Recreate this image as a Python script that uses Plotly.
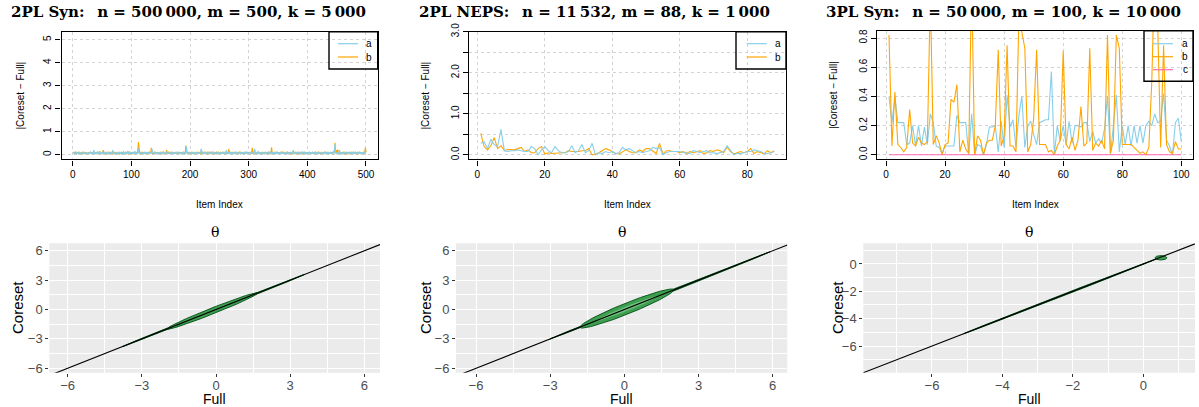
import numpy as np
import plotly.graph_objects as go

W, H = 1199, 407

# ---------------- data (values in hundredths) ----------------
A_SYN2_X100 = [
    8,5,3,9,6,4,10,7,3,5,12,6,4,8,3,7,5,9,4,6,11,5,3,8,6,
    4,9,5,7,13,6,3,8,5,10,20,7,4,9,6,12,5,3,8,14,6,4,9,7,5,
    10,6,3,8,13,5,7,4,9,6,11,5,3,8,6,10,4,20,7,5,9,3,6,12,5,
    8,4,10,6,3,9,7,12,5,4,8,14,6,3,10,7,5,9,16,4,6,11,5,8,3,
    7,12,5,9,4,15,6,8,3,10,30,14,7,5,9,4,12,6,3,8,5,10,7,4,9,
    6,11,4,8,5,13,7,3,9,25,10,6,4,8,12,5,9,3,7,11,5,8,4,10,6,
    3,9,7,12,5,8,4,10,6,14,7,3,9,5,11,6,4,8,12,5,7,3,10,6,9,
    4,8,13,5,7,3,9,11,6,4,8,5,12,7,3,10,6,9,35,8,4,7,12,5,9,
    6,3,10,8,5,12,4,7,9,3,11,6,8,5,10,4,7,13,25,9,5,8,4,11,6,
    3,9,7,5,12,8,4,10,6,3,9,14,5,7,4,11,8,6,3,10,5,9,12,4,7,
    6,8,3,10,5,13,7,4,9,6,11,20,5,8,3,10,7,4,12,6,9,5,8,3,11,
    7,4,9,13,6,5,10,3,8,12,4,7,9,5,11,6,3,10,8,4,14,7,5,9,6,
    3,11,8,5,10,7,4,12,6,25,9,5,8,3,10,13,6,4,9,7,5,11,3,8,6,
    10,4,7,12,5,9,3,8,14,6,4,10,7,5,12,8,3,9,6,11,4,7,13,5,8,
    3,10,6,9,4,12,7,5,8,11,3,6,10,4,9,13,5,7,3,8,12,6,4,10,7,
    20,5,9,3,11,6,8,4,10,7,12,5,3,9,6,14,8,4,7,10,5,11,3,8,6,
    9,4,12,7,5,10,3,8,13,6,4,9,7,11,5,3,10,8,6,12,4,7,9,5,11,
    6,3,8,10,4,13,7,5,9,3,12,6,8,4,10,7,5,11,9,6,14,45,8,5,10,
    4,7,12,6,20,3,9,8,5,11,4,7,10,6,3,12,8,5,9,4,11,7,3,10,6,
    8,5,12,4,9,7,3,10,6,11,5,8,4,13,7,9,3,10,6,5,12,8,4,20,15,
]
B_SYN2_X100 = [
    12,10,8,6,11,9,5,7,10,4,6,3,8,5,9,7,4,12,10,6,8,5,3,9,7,
    5,8,4,10,6,12,3,9,7,5,11,8,4,6,10,3,12,7,5,9,15,6,4,8,10,
    7,20,5,9,4,11,6,3,10,8,5,13,7,4,9,6,12,3,8,5,10,7,4,11,6,
    9,5,3,12,8,6,10,4,7,11,5,9,3,8,12,6,4,10,7,5,14,8,3,9,6,
    11,5,8,4,12,7,3,10,6,9,5,55,14,7,4,10,8,6,12,3,9,5,11,7,4,
    8,10,6,3,12,5,9,7,30,11,6,4,8,10,5,12,3,7,9,6,11,4,8,5,10,
    7,3,9,12,6,8,4,10,5,20,7,3,11,8,6,9,4,12,5,7,10,3,8,6,11,
    5,9,4,12,7,3,10,8,6,11,4,9,5,13,7,3,10,40,12,6,8,4,11,7,5,
    9,3,12,6,8,5,10,4,7,11,3,9,6,12,8,4,10,5,7,13,3,9,6,11,8,
    4,10,7,5,12,3,9,6,11,8,4,10,5,7,12,3,9,6,8,11,4,7,10,5,9,
    3,12,6,8,4,10,7,5,11,9,3,8,12,6,4,25,7,10,5,9,3,11,8,6,12,
    4,7,10,5,9,3,12,6,8,11,4,7,9,5,10,3,12,6,8,4,11,7,5,9,10,
    6,3,8,12,5,30,7,4,10,9,6,11,3,8,5,12,7,4,10,6,9,3,11,8,5,
    12,4,7,10,6,9,3,11,8,5,12,4,7,32,6,10,3,9,5,11,8,4,12,7,6,
    10,3,9,5,12,8,4,11,7,6,9,3,10,5,12,8,4,7,11,6,9,3,10,5,8,
    12,4,7,11,6,9,3,10,8,5,12,4,7,9,6,11,3,8,10,5,12,4,7,9,6,
    10,3,8,12,5,9,4,11,7,6,10,3,8,12,5,9,4,7,11,6,10,3,8,5,12,
    7,4,9,11,6,10,3,8,12,5,9,4,7,10,6,11,3,8,5,12,9,52,10,6,20,
    8,22,5,11,7,4,10,6,9,3,12,8,5,10,7,4,11,6,9,3,8,12,5,7,10,
    4,9,6,11,8,3,10,7,5,12,4,9,6,11,8,3,10,5,7,12,6,9,15,30,10,
]
A_NEPS_X100 = [
    28,32,15,38,25,20,62,10,8,10,10,12,10,8,8,20,15,0,12,20,10,5,
    20,10,5,5,8,22,5,10,25,5,10,28,0,5,3,8,5,8,3,5,18,12,
    15,10,5,8,5,8,10,18,15,18,0,5,8,8,8,8,5,5,3,10,8,5,
    8,10,5,5,3,5,8,22,10,0,3,3,5,8,8,12,10,8,3,3,5,8,
]
B_NEPS_X100 = [
    52,20,12,22,42,15,22,10,13,12,12,15,18,8,12,5,5,15,20,2,5,3,
    4,5,5,5,10,8,8,8,10,10,15,0,2,5,10,15,12,8,3,2,8,12,
    8,5,5,12,8,15,15,8,3,28,2,10,10,8,8,5,8,3,8,5,8,10,
    3,5,10,8,12,10,5,19,8,2,5,8,5,8,15,3,8,5,2,10,5,10,
]
A_SYN3_X100 = [
    40,22,40,22,22,22,7,8,20,6,
    20,6,19,7,28,22,6,5,1,6,
    6,6,6,27,22,22,22,0,28,0,
    7,6,0,7,19,19,20,2,23,5,
    41,19,24,5,27,40,5,20,23,14,
    7,22,23,24,24,57,0,20,9,20,
    7,23,8,20,20,19,22,22,9,16,
    8,11,8,18,40,0,20,41,2,20,
    7,20,6,20,8,20,8,20,23,20,
    28,22,23,42,10,6,0,22,25,9,
]
B_SYN3_X100 = [
    82,6,43,7,5,2,5,31,8,6,
    12,8,7,9,110,7,13,8,0,7,
    8,38,36,48,2,10,4,1,120,0,
    13,10,0,8,10,10,20,72,6,13,
    75,6,6,2,95,85,73,2,7,25,
    72,7,7,7,2,3,0,6,10,71,
    7,4,12,3,10,33,6,8,73,3,
    8,6,10,4,82,1,10,82,73,7,
    7,7,7,5,3,1,2,0,5,50,
    130,90,5,75,7,2,1,9,4,4,
]
C_SYN3_X100 = [
    0,0,0,0,0,0,0,0,0,0,
    0,0,0,0,0,0,0,0,0,0,
    0,0,0,0,0,0,0,0,0,0,
    0,0,0,0,0,0,0,0,0,0,
    0,0,0,0,0,0,0,0,0,0,
    0,0,0,0,0,0,0,0,0,0,
    0,0,0,0,0,0,0,0,0,0,
    0,0,0,0,0,0,0,0,0,0,
    0,0,0,0,0,0,0,0,0,0,
    0,0,0,0,0,0,0,0,0,0,
]

TITLES = [
    "2PL Syn:\u2002 n = 500\u2009000, m = 500, k = 5\u2009000",
    "2PL NEPS:\u2002 n = 11\u2009532, m = 88, k = 1\u2009000",
    "3PL Syn:\u2002 n = 50\u2009000, m = 100, k = 10\u2009000",
]
SERIES_NAMES = ["a", "b", "c"]

# theta density summaries along the diagonal: (start, end, vertical half-span)
THETA_OUTER_SYN2 = (-3.8, 3.6, 0.10)
THETA_INNER_SYN2 = (-2.0, 1.7, 0.33)
THETA_OUTER_NEPS = (-3.0, 5.9, 0.10)
THETA_INNER_NEPS = (-1.8, 2.0, 0.60)
THETA_CORE_NEPS = (-1.2, 1.4, 0.30)
THETA_OUTER_SYN3 = (-5.1, 0.4, 0.06)
THETA_BLOB_SYN3 = (0.5, 0.45, 0.17, 0.16)  # cx, cy, rx, ry
DIAG_INTERCEPT, DIAG_SLOPE = 0.0, 1.0

SKY, ORANGE, PINK = "#87CEEB", "#FFA500", "#FF69B4"
G_FILL, G_LINE, G_CORE = "#3E9E50", "#0B5A20", "#6CC07A"

def fx(p): return p / W
def fy(p): return 1 - p / H

fig = go.Figure()

# ---------------- top row ----------------
top_series = [
    ([A_SYN2_X100, B_SYN2_X100], 1),
    ([A_NEPS_X100, B_NEPS_X100], 2),
    ([A_SYN3_X100, B_SYN3_X100, C_SYN3_X100], 3),
]
colors = [SKY, ORANGE, PINK]
for arrs, k in top_series:
    order = [1, 0] if k < 3 else [0, 1, 2]
    for j in order:
        vals = np.array(arrs[j]) / 100.0
        xs = np.arange(1, len(vals) + 1)
        fig.add_trace(go.Scatter(x=xs, y=vals, mode="lines", name=SERIES_NAMES[j],
                                 line=dict(color=colors[j], width=1.2 if k == 1 else 1.1),
                                 showlegend=False,
                                 xaxis="x" if k == 1 else f"x{k}",
                                 yaxis="y" if k == 1 else f"y{k}"))

# ---------------- bottom row ----------------
def lens(band):
    x0, x1, h = band
    t = np.linspace(x0, x1, 80)
    c, L = (x0 + x1) / 2, (x1 - x0) / 2
    off = h * np.sqrt(np.clip(1 - ((t - c) / L) ** 2, 0, 1))
    xs = np.concatenate([t, t[::-1]])
    ys = np.concatenate([t + off, (t - off)[::-1]])
    return xs, ys

def add_lens(band, k, fill, line):
    xs, ys = lens(band)
    fig.add_trace(go.Scatter(x=xs, y=ys, mode="lines", fill="toself", fillcolor=fill,
                             line=dict(color=line, width=1), showlegend=False,
                             hoverinfo="skip", xaxis=f"x{k}", yaxis=f"y{k}"))

add_lens(THETA_OUTER_SYN2, 4, G_LINE, G_LINE)
add_lens(THETA_INNER_SYN2, 4, G_FILL, G_LINE)
add_lens(THETA_OUTER_NEPS, 5, G_LINE, G_LINE)
add_lens(THETA_INNER_NEPS, 5, G_FILL, G_LINE)
add_lens(THETA_CORE_NEPS, 5, G_CORE, G_FILL)
add_lens(THETA_OUTER_SYN3, 6, G_LINE, G_LINE)
cx, cy, rx, ry = THETA_BLOB_SYN3
ang = np.linspace(0, 2 * np.pi, 60)
fig.add_trace(go.Scatter(x=cx + rx * np.cos(ang), y=cy + ry * np.sin(ang), mode="lines",
                         fill="toself", fillcolor=G_FILL, line=dict(color=G_LINE, width=1),
                         showlegend=False, hoverinfo="skip", xaxis="x6", yaxis="y6"))

# ---------------- axes ----------------
top_ax = dict(showline=True, linecolor="black", linewidth=1.4, mirror=True,
              ticks="outside", ticklen=5, tickwidth=1, tickcolor="black",
              tickfont=dict(family="Liberation Sans", size=10, color="black"),
              showgrid=True, gridcolor="#D3D3D3", griddash="dot", gridwidth=1,
              zeroline=False, automargin=False)
bot_ax = dict(showline=False, ticks="outside", ticklen=3, tickwidth=1, tickcolor="#333333",
              tickfont=dict(family="Liberation Sans", size=13, color="#4D4D4D"),
              showgrid=True, gridcolor="white", gridwidth=1.2, zeroline=False,
              automargin=False)

panels = {
    1: dict(dx=(61.6, 377.7), dy=(31.7, 159.3)),
    2: dict(dx=(469.0, 786.0), dy=(31.7, 159.3)),
    3: dict(dx=(877.3, 1193.0), dy=(30.7, 159.3)),
    4: dict(dx=(49.3, 380.0), dy=(243.3, 372.7)),
    5: dict(dx=(456.0, 787.3), dy=(243.3, 372.7)),
    6: dict(dx=(863.3, 1195.0), dy=(243.3, 372.7)),
}

xr = {1: [-18.96, 519.96], 2: [-2.48, 91.48], 3: [-2.96, 103.96],
      4: [-6.74, 6.63], 5: [-6.81, 6.59], 6: [-7.95, 1.47]}
yr = {1: [-0.2, 5.35], 2: [-0.11, 3.0], 3: [-0.031, 0.85],
      4: [-6.45, 6.76], 5: [-6.45, 6.76], 6: [-7.95, 1.51]}

xticks = {1: [0, 100, 200, 300, 400, 500], 2: [0, 20, 40, 60, 80], 3: [0, 20, 40, 60, 80, 100]}
yticks = {1: ([0, 1, 2, 3, 4, 5], ["0", "1", "2", "3", "4", "5"]),
          2: ([0, 0.5, 1, 1.5, 2, 2.5, 3], ["0.0", "", "1.0", "", "2.0", "", "3.0"]),
          3: ([0, 0.2, 0.4, 0.6, 0.8], ["0.0", "0.2", "0.4", "0.6", "0.8"])}

layout_axes = {}
for k, p in panels.items():
    xn = "xaxis" if k == 1 else f"xaxis{k}"
    yn = "yaxis" if k == 1 else f"yaxis{k}"
    xa_id = "x" if k == 1 else f"x{k}"
    ya_id = "y" if k == 1 else f"y{k}"
    dom_x = [fx(p["dx"][0]), fx(p["dx"][1])]
    dom_y = [fy(p["dy"][1]), fy(p["dy"][0])]
    if k <= 3:
        xa = dict(top_ax, domain=dom_x, range=xr[k], anchor=ya_id,
                  tickvals=xticks[k], ticktext=[str(v) for v in xticks[k]])
        ya = dict(top_ax, domain=dom_y, range=yr[k], anchor=xa_id,
                  tickvals=yticks[k][0], ticktext=yticks[k][1], tickangle=-90)
    else:
        if k in (4, 5):
            maj, mnr = [-6, -3, 0, 3, 6], [-4.5, -1.5, 1.5, 4.5]
        else:
            maj, mnr = [-6, -4, -2, 0], [-7, -5, -3, -1, 1]
        xa = dict(bot_ax, domain=dom_x, range=xr[k], anchor=ya_id, tickvals=maj,
                  ticklabelstandoff=-2,
                  minor=dict(tickvals=mnr, showgrid=True, gridcolor="white", gridwidth=0.6, ticks=""))
        ya = dict(bot_ax, domain=dom_y, range=yr[k], anchor=xa_id, tickvals=maj,
                  minor=dict(tickvals=mnr, showgrid=True, gridcolor="white", gridwidth=0.6, ticks=""))
    layout_axes[xn] = xa
    layout_axes[yn] = ya

# diagonal lines y = a + b x over each bottom panel range
for k in (4, 5, 6):
    lo, hi = xr[k]
    xs = np.array([lo, hi])
    fig.add_trace(go.Scatter(x=xs, y=DIAG_INTERCEPT + DIAG_SLOPE * xs, mode="lines",
                             line=dict(color="black", width=1.1), showlegend=False,
                             hoverinfo="skip", xaxis=f"x{k}", yaxis=f"y{k}"))

shapes = []
for k in (4, 5, 6):
    shapes.append(dict(type="rect", xref=f"x{k} domain", yref=f"y{k} domain",
                       x0=0, x1=1, y0=0, y1=1, fillcolor="#EBEBEB",
                       line=dict(width=0), layer="below"))

annotations = []
title_x = [188, 594, 1003]
for t, xc in zip(TITLES, title_x):
    annotations.append(dict(text=f"<b>{t}</b>", x=fx(xc), y=fy(12), xref="paper", yref="paper",
                            showarrow=False, xanchor="center", yanchor="middle",
                            font=dict(family="DejaVu Serif", size=15, color="black")))
for k in (1, 2, 3):
    p = panels[k]
    xc = (p["dx"][0] + p["dx"][1]) / 2
    annotations.append(dict(text="Item Index", x=fx(xc), y=fy(204), xref="paper", yref="paper",
                            showarrow=False, xanchor="center", yanchor="middle",
                            font=dict(family="Liberation Sans", size=10, color="black")))
ytitle_x = [20, 425, 833]
for k, xp in zip((1, 2, 3), ytitle_x):
    p = panels[k]
    yc = (p["dy"][0] + p["dy"][1]) / 2
    annotations.append(dict(text="|Coreset \u2212 Full|", x=fx(xp), y=fy(yc), xref="paper",
                            yref="paper", showarrow=False, textangle=-90,
                            xanchor="center", yanchor="middle",
                            font=dict(family="Liberation Sans", size=10, color="black")))
for k, xp in zip((4, 5, 6), (17, 425, 837)):
    p = panels[k]
    xc = (p["dx"][0] + p["dx"][1]) / 2
    yc = (p["dy"][0] + p["dy"][1]) / 2
    annotations.append(dict(text="\u03b8", x=fx(xc), y=fy(232), xref="paper", yref="paper",
                            showarrow=False, xanchor="center", yanchor="middle",
                            font=dict(family="DejaVu Serif", size=14, color="black")))
    annotations.append(dict(text="Full", x=fx(xc), y=fy(399), xref="paper", yref="paper",
                            showarrow=False, xanchor="center", yanchor="middle",
                            font=dict(family="Liberation Sans", size=14, color="black")))
    annotations.append(dict(text="Coreset", x=fx(xp), y=fy(yc), xref="paper", yref="paper",
                            showarrow=False, textangle=-90, xanchor="center", yanchor="middle",
                            font=dict(family="Liberation Sans", size=15, color="black")))

legends = [
    dict(box=(329, 377.7, 31.7, 69), key=(338, 358), lab=369, rows=[43.7, 57], n=2),
    dict(box=(736, 786, 31.7, 69), key=(746.7, 766.7), lab=777.7, rows=[43.7, 57], n=2),
    dict(box=(1144, 1193, 30.7, 81.3), key=(1153, 1173), lab=1185, rows=[43.7, 56.7, 69.7], n=3),
]
for L in legends:
    x0, x1, y0, y1 = L["box"]
    shapes.append(dict(type="rect", xref="paper", yref="paper", x0=fx(x0), x1=fx(x1),
                       y0=fy(y1), y1=fy(y0), line=dict(color="black", width=1.4),
                       fillcolor="rgba(0,0,0,0)", layer="above"))
    for j in range(L["n"]):
        ry_ = L["rows"][j]
        shapes.append(dict(type="line", xref="paper", yref="paper", x0=fx(L["key"][0]),
                           x1=fx(L["key"][1]), y0=fy(ry_), y1=fy(ry_),
                           line=dict(color=colors[j], width=1.2), layer="above"))
        annotations.append(dict(text=SERIES_NAMES[j], x=fx(L["lab"]), y=fy(ry_), xref="paper",
                                yref="paper", showarrow=False, xanchor="center", yanchor="middle",
                                font=dict(family="Liberation Sans", size=10, color="black")))

fig.update_layout(width=W, height=H, margin=dict(l=0, r=0, t=0, b=0, autoexpand=False),
                  paper_bgcolor="white", plot_bgcolor="rgba(0,0,0,0)",
                  showlegend=False, shapes=shapes, annotations=annotations,
                  **layout_axes)

fig.write_html("out.html", config={"displayModeBar": False},
               post_script="document.body.style.margin='0px';document.body.style.padding='0px';"
                           "document.body.style.overflow='hidden';")
